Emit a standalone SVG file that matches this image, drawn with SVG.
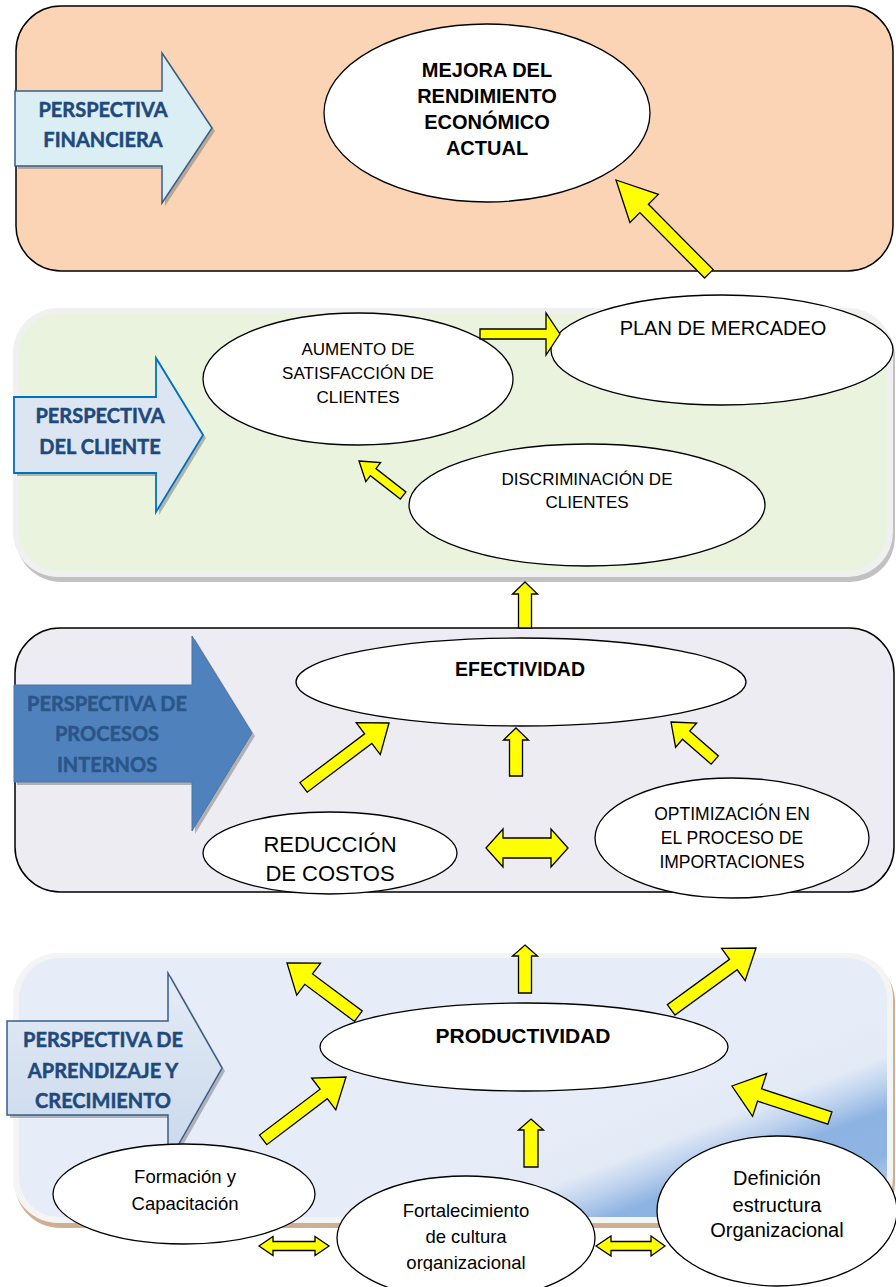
<svg xmlns="http://www.w3.org/2000/svg" width="896" height="1287" viewBox="0 0 896 1287">
<defs>
<style>
.el{fill:#FFFFFF;stroke:#000000;stroke-width:1.3}
.t{font-family:"Liberation Sans",Arial,sans-serif;fill:#000000;text-anchor:middle}
.b{font-weight:bold}
.pl{font-family:Lato,"Open Sans",sans-serif;font-weight:bold;text-anchor:middle;font-size:20px;stroke-width:0.5px}
.ya{fill:#FFFF00;stroke:#000000;stroke-width:1.3;stroke-linejoin:miter}
.shd{fill:#7F7F7F;opacity:0.55}
</style>
<linearGradient id="g4" gradientUnits="userSpaceOnUse" x1="700" y1="1075" x2="760" y2="1230">
<stop offset="0" stop-color="#E6EDF8"/>
<stop offset="0.3" stop-color="#E2EAF6"/>
<stop offset="0.45" stop-color="#BCD1EE"/>
<stop offset="0.6" stop-color="#8DB3E2"/>
<stop offset="0.85" stop-color="#8FB4E2"/>
<stop offset="1" stop-color="#AFC9EA"/>
</linearGradient>
<linearGradient id="ga4" x1="0" y1="0" x2="0" y2="1">
<stop offset="0" stop-color="#E4ECF6"/>
<stop offset="1" stop-color="#C9D8EC"/>
</linearGradient>
<clipPath id="clipOrg"><rect x="330" y="1170" width="280" height="101"/></clipPath>
</defs>

<g id="panels">
<rect id="panel1" x="16" y="6" width="877" height="265" rx="45" fill="#FAD4B4" stroke="#000" stroke-width="1.5"/>
<g id="panel2">
<rect x="16" y="312" width="879" height="270" rx="45" fill="#A6A6A6" opacity="0.7"/>
<rect x="13" y="308" width="880" height="269" rx="45" fill="#F0F0F0"/>
<rect x="19" y="313" width="868" height="258" rx="40" fill="#EAF3DD"/>
</g>
<rect id="panel3" x="15" y="628" width="879" height="264" rx="45" fill="#EEECF3" stroke="#000" stroke-width="1.5"/>
<g id="panel4">
<rect x="15" y="957" width="880" height="271" rx="45" fill="#C39B77" opacity="0.8"/>
<rect x="13" y="953" width="880" height="270" rx="45" fill="#F4F4F4"/>
<rect x="19" y="958" width="868" height="259" rx="40" fill="url(#g4)"/>
</g>
</g>

<g id="persp-financiera">
<polygon class="shd" transform="translate(3,3)" points="15,91 162,91 162,53 212,128 162,203 162,166 15,166"/>
<polygon points="15,91 162,91 162,53 212,128 162,203 162,166 15,166" fill="#DBEEF4" stroke="#385D8A" stroke-width="1.5"/>
<text class="pl" fill="#1F497D" stroke="#1F497D" x="103" y="117">PERSPECTIVA</text>
<text class="pl" fill="#1F497D" stroke="#1F497D" x="103" y="147">FINANCIERA</text>
</g>
<g id="persp-cliente">
<polygon class="shd" transform="translate(3,3)" points="14,397 156,397 156,358 203,435 156,512 156,473 14,473"/>
<polygon points="14,397 156,397 156,358 203,435 156,512 156,473 14,473" fill="#DCE6F2" stroke="#0070C0" stroke-width="1.8"/>
<text class="pl" fill="#1F497D" stroke="#1F497D" x="100" y="423">PERSPECTIVA</text>
<text class="pl" fill="#1F497D" stroke="#1F497D" x="100" y="454">DEL CLIENTE</text>
</g>
<g id="persp-procesos">
<polygon class="shd" transform="translate(3,3)" points="14,685 192,685 192,636 252,733 192,831 192,782 14,782"/>
<polygon points="14,685 192,685 192,636 252,733 192,831 192,782 14,782" fill="#4F81BD" stroke="#4A76AB" stroke-width="1"/>
<text class="pl" fill="#2A5587" stroke="#2A5587" x="107" y="711">PERSPECTIVA DE</text>
<text class="pl" fill="#2A5587" stroke="#2A5587" x="107" y="741">PROCESOS</text>
<text class="pl" fill="#2A5587" stroke="#2A5587" x="107" y="772">INTERNOS</text>
</g>
<g id="persp-aprendizaje">
<polygon class="shd" transform="translate(3,3)" points="7,1021 168,1021 168,973 222,1068 168,1163 168,1115 7,1115"/>
<polygon points="7,1021 168,1021 168,973 222,1068 168,1163 168,1115 7,1115" fill="url(#ga4)" stroke="#385D8A" stroke-width="1.5"/>
<text class="pl" fill="#1F497D" stroke="#1F497D" x="103" y="1047">PERSPECTIVA DE</text>
<text class="pl" fill="#1F497D" stroke="#1F497D" x="103" y="1078">APRENDIZAJE Y</text>
<text class="pl" fill="#1F497D" stroke="#1F497D" x="103" y="1108">CRECIMIENTO</text>
</g>

<g id="mejora">
<ellipse class="el" cx="487" cy="113" rx="163" ry="89"/>
<text class="t b" font-size="20" x="487" y="77">MEJORA DEL</text>
<text class="t b" font-size="20" x="487" y="103">RENDIMIENTO</text>
<text class="t b" font-size="20" x="487" y="129">ECONÓMICO</text>
<text class="t b" font-size="20" x="487" y="155">ACTUAL</text>
</g>
<g id="aumento">
<ellipse class="el" cx="358" cy="379" rx="155" ry="66"/>
<text class="t" font-size="17" x="358" y="355">AUMENTO DE</text>
<text class="t" font-size="17" x="358" y="379">SATISFACCIÓN DE</text>
<text class="t" font-size="17" x="358" y="403">CLIENTES</text>
</g>
<g id="plan">
<ellipse class="el" cx="722" cy="350" rx="171" ry="55"/>
<text class="t" font-size="20" x="723" y="335">PLAN DE MERCADEO</text>
</g>
<g id="discriminacion">
<ellipse class="el" cx="587" cy="505" rx="178" ry="61"/>
<text class="t" font-size="17" x="587" y="485">DISCRIMINACIÓN DE</text>
<text class="t" font-size="17" x="587" y="508">CLIENTES</text>
</g>
<g id="efectividad">
<ellipse class="el" cx="521" cy="682" rx="225" ry="44"/>
<text class="t b" font-size="19.5" x="520" y="676">EFECTIVIDAD</text>
</g>
<g id="reduccion">
<ellipse class="el" cx="330" cy="853" rx="127" ry="41"/>
<text class="t" font-size="22" x="330" y="852">REDUCCIÓN</text>
<text class="t" font-size="22" x="330" y="881">DE COSTOS</text>
</g>
<g id="optimizacion">
<ellipse class="el" cx="732" cy="838" rx="137" ry="60"/>
<text class="t" font-size="17.5" x="732" y="820">OPTIMIZACIÓN EN</text>
<text class="t" font-size="17.5" x="732" y="844">EL PROCESO DE</text>
<text class="t" font-size="17.5" x="732" y="868">IMPORTACIONES</text>
</g>
<g id="productividad">
<ellipse class="el" cx="524" cy="1047" rx="204" ry="44"/>
<text class="t b" font-size="21" x="523" y="1043">PRODUCTIVIDAD</text>
</g>
<g id="formacion">
<ellipse class="el" cx="184" cy="1194" rx="131" ry="50"/>
<text class="t" font-size="18.5" x="185" y="1183">Formación y</text>
<text class="t" font-size="18.5" x="185" y="1210">Capacitación</text>
</g>
<g id="fortalecimiento">
<ellipse class="el" cx="466" cy="1238" rx="129" ry="62"/>
<text class="t" font-size="18.5" x="466" y="1217">Fortalecimiento</text>
<text class="t" font-size="18.5" x="466" y="1243">de cultura</text>
<text class="t" font-size="18.5" x="466" y="1269" clip-path="url(#clipOrg)">organizacional</text>
</g>
<g id="definicion">
<ellipse class="el" cx="777" cy="1211" rx="120" ry="75"/>
<text class="t" font-size="20" x="777" y="1185">Definición</text>
<text class="t" font-size="20" x="777" y="1212">estructura</text>
<text class="t" font-size="20" x="777" y="1237">Organizacional</text>
</g>

<g id="connectors">
<path class="ya" transform="translate(616,180) rotate(-44.7)" d="M0,0 L20,40 L6,40 L6,132 L-6,132 L-6,40 L-20,40 Z"/>
<path class="ya" transform="translate(560,334) rotate(90)" d="M0,0 L21,14 L5,14 L5,80 L-5,80 L-5,14 L-21,14 Z"/>
<path class="ya" transform="translate(359,461) rotate(-52)" d="M0,0 L12,18 L4.5,18 L4.5,56 L-4.5,56 L-4.5,18 L-12,18 Z"/>
<path class="ya" transform="translate(525,582)" d="M0,0 L12.5,12 L6.5,12 L6.5,46 L-6.5,46 L-6.5,12 L-12.5,12 Z"/>
<path class="ya" transform="translate(389,723) rotate(53)" d="M0,0 L20,26 L6,26 L6,107 L-6,107 L-6,26 L-20,26 Z"/>
<path class="ya" transform="translate(516,728)" d="M0,0 L12.5,12 L6.5,12 L6.5,48 L-6.5,48 L-6.5,12 L-12.5,12 Z"/>
<path class="ya" transform="translate(671,722) rotate(-49)" d="M0,0 L16,20 L5.5,20 L5.5,58 L-5.5,58 L-5.5,20 L-16,20 Z"/>
<path class="ya" d="M486,848 L503,829 L503,838 L551,838 L551,829 L568,848 L551,867 L551,858 L503,858 L503,867 Z"/>
<path class="ya" transform="translate(287,963) rotate(-53.3)" d="M0,0 L20,27 L6.5,27 L6.5,89 L-6.5,89 L-6.5,27 L-20,27 Z"/>
<path class="ya" transform="translate(525,945)" d="M0,0 L12.5,11 L6.5,11 L6.5,48 L-6.5,48 L-6.5,11 L-12.5,11 Z"/>
<path class="ya" transform="translate(756,948) rotate(53.9)" d="M0,0 L20,28 L6.5,28 L6.5,105 L-6.5,105 L-6.5,28 L-20,28 Z"/>
<path class="ya" transform="translate(346,1077) rotate(52.8)" d="M0,0 L20,28 L6,28 L6,104 L-6,104 L-6,28 L-20,28 Z"/>
<path class="ya" transform="translate(531,1119)" d="M0,0 L12.5,11 L7,11 L7,48 L-7,48 L-7,11 L-12.5,11 Z"/>
<path class="ya" transform="translate(732,1086) rotate(-71.9)" d="M0,0 L22.5,29 L6.5,29 L6.5,103 L-6.5,103 L-6.5,29 L-22.5,29 Z"/>
<path class="ya" d="M259,1246 L273,1236.5 L273,1241.5 L315,1241.5 L315,1236.5 L329,1246 L315,1255.5 L315,1250.5 L273,1250.5 L273,1255.5 Z"/>
<path class="ya" d="M596,1246 L611,1236 L611,1241.5 L651,1241.5 L651,1236 L665,1246 L651,1256 L651,1250.5 L611,1250.5 L611,1256 Z"/>
</g>
</svg>
